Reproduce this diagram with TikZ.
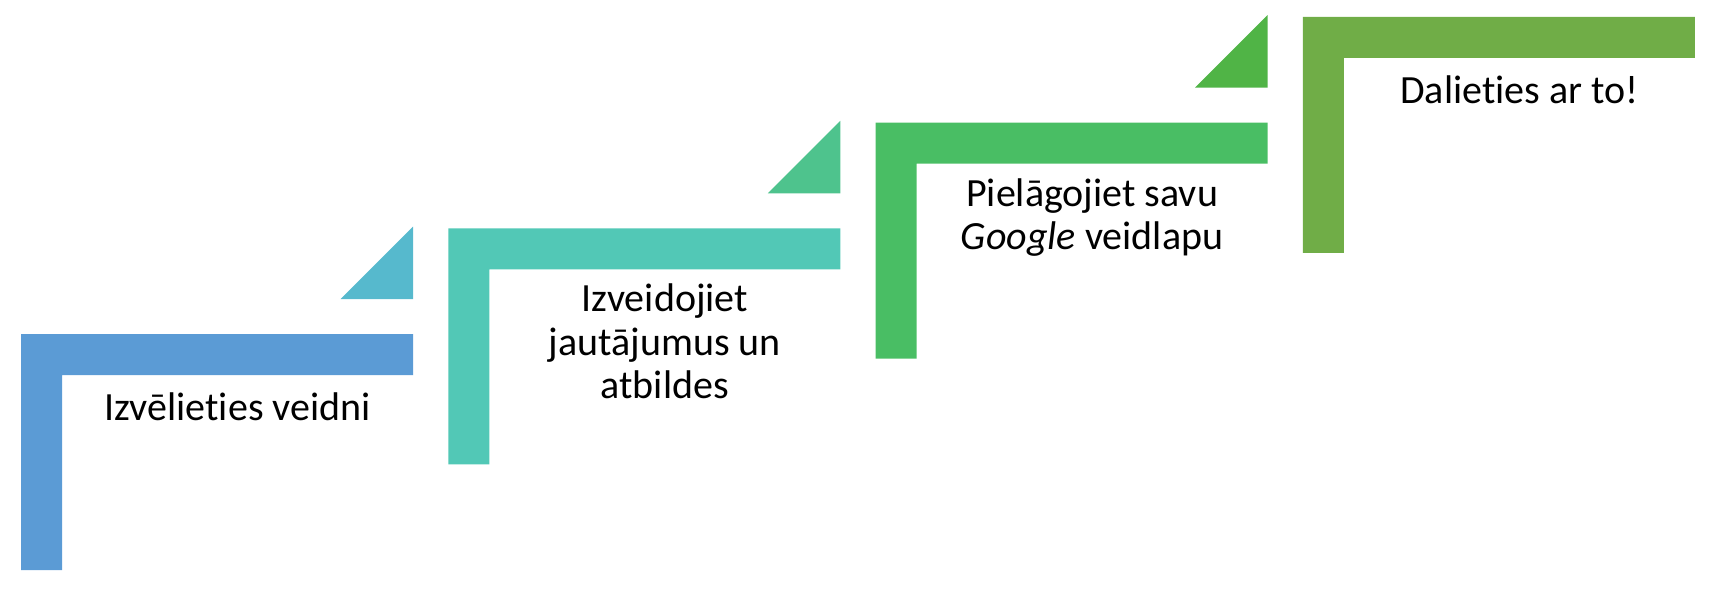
\documentclass[tikz,border=0pt]{standalone}
\usepackage{fontspec}
\setmainfont{Carlito}[Ligatures=NoCommon]
\usetikzlibrary{
positioning,
}
\definecolor{barA}{HTML}{5B9BD5}
\definecolor{barB}{HTML}{52C8B6}
\definecolor{barC}{HTML}{49BE64}
\definecolor{barD}{HTML}{70AD47}
\definecolor{flagA}{HTML}{56B9CD}
\definecolor{flagB}{HTML}{4EC38D}
\definecolor{flagC}{HTML}{50B446}
\tikzset{
stepbar/.style={fill=#1, draw=none},
stepflag/.style={fill=#1, draw=none},
steplabel/.style={align=center, inner sep=0pt, anchor=north,
  font=\fontsize{40}{43.5}\selectfont, execute at begin node=\strut},
}

\begin{document}
\begin{tikzpicture}[x=1pt, y=-1pt]
    \useasboundingbox (0,0) rectangle (1715,591);
    % the four L-shaped steps with their texts
    \foreach \i/\col/\txt in {
        0/barA/{Izvēlieties veidni},
        1/barB/{Izveidojiet\\jautājumus un\\atbildes},
        2/barC/{Pielāgojiet savu\\\textit{Google} veidlapu},
        3/barD/{Dalieties ar to!}} {
        \begin{scope}[shift={(427.3*\i,-105.7*\i)}]
            \path [stepbar=\col] (21,334) -- (413,334) -- (413,375) -- (62,375)
                -- (62,570) -- (21,570) -- cycle;
            \node (label\i) [steplabel] at (237.5,389.5) {\txt};
        \end{scope}
    }
    % small triangles between the steps
    \foreach \i/\col in {0/flagA, 1/flagB, 2/flagC} {
        \path [stepflag=\col, shift={(427.3*\i,-105.7*\i)}]
            (340.5,299) -- (413,299) -- (413,226.5) -- cycle;
    }
\end{tikzpicture}
\end{document}
